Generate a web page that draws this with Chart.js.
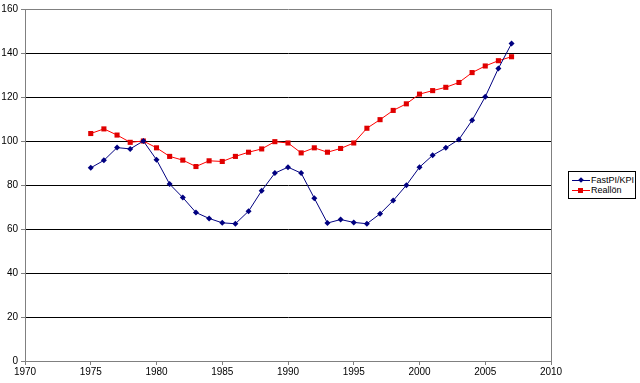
<!DOCTYPE html>
<html>
<head>
<meta charset="utf-8">
<script src="https://cdn.jsdelivr.net/npm/chart.js@4.4.1/dist/chart.umd.min.js"></script>
<style>
html,body{margin:0;padding:0;background:#fff;}
#wrap{position:relative;width:640px;height:383px;}
#legend{position:absolute;left:568px;top:171px;width:68px;height:28px;border:1px solid #000;box-sizing:border-box;background:#fff;font-family:"Liberation Sans",Arial,sans-serif;font-size:9px;color:#000;}
.item{position:absolute;left:0px;height:10px;width:66px;}
.ln{position:absolute;left:3px;top:5px;width:18px;height:1px;}
.mk{position:absolute;}
.tx{position:absolute;left:22px;top:0px;line-height:10px;white-space:nowrap;}
</style>
</head>
<body>
<div id="wrap">
<canvas id="c" width="640" height="383"></canvas>
<div id="legend">
  <div class="item" style="top:3px"><div class="ln" style="background:#000080"></div><div class="mk" style="left:10px;top:3px;width:4px;height:4px;background:#000080;transform:rotate(45deg)"></div><div class="tx">FastPI/KPI</div></div>
  <div class="item" style="top:13px"><div class="ln" style="background:#ff0000"></div><div class="mk" style="left:9px;top:3px;width:5px;height:5px;background:#e00000"></div><div class="tx">Reallön</div></div>
</div>
</div>
<script>
const years = [1975,1976,1977,1978,1979,1980,1981,1982,1983,1984,1985,1986,1987,1988,1989,1990,1991,1992,1993,1994,1995,1996,1997,1998,1999,2000,2001,2002,2003,2004,2005,2006,2007];
const fastpiKpi = [87.8,91.2,97.0,96.4,100.0,91.5,80.4,74.3,67.5,64.8,62.8,62.4,68.1,77.4,85.4,88.1,85.4,74.0,62.7,64.3,63.0,62.4,66.9,72.9,79.9,88.1,93.5,96.9,100.7,109.4,120.1,133.0,144.3];
const reallon = [103.4,105.5,102.7,99.4,100.0,96.9,93.0,91.3,88.4,91.0,90.7,93.0,94.9,96.4,99.7,99.1,94.6,96.9,94.9,96.6,99.1,105.8,109.7,113.9,116.9,121.3,122.9,124.4,126.6,131.1,134.1,136.5,138.3];
const seriesNames = ["FastPI/KPI","Reallön"];
const xTicks = {min:1970, max:2010, step:5};
const yTicks = {min:0, max:160, step:20};

const pts = (arr) => years.map((y,i)=>({x:y,y:arr[i]}));

new Chart(document.getElementById('c'), {
  type: 'scatter',
  data: {
    datasets: [
      {label: seriesNames[0], data: pts(fastpiKpi), showLine:true, borderColor:'#000080', borderWidth:1, backgroundColor:'#000080', pointStyle:'rectRot', pointRadius:3, pointBorderWidth:0, pointBackgroundColor:'#000080', tension:0},
      {label: seriesNames[1], data: pts(reallon), showLine:true, borderColor:'#ff0000', borderWidth:1, backgroundColor:'#e00000', pointStyle:'rect', pointRadius:3.6, pointBorderWidth:0, pointBackgroundColor:'#e00000', tension:0}
    ]
  },
  options: {
    responsive:false,
    animation:false,
    events:[],
    layout:{padding:{top:7,right:89,left:0,bottom:0}},
    plugins:{legend:{display:false}, tooltip:{enabled:false}},
    scales:{
      x:{
        type:'linear', min:xTicks.min, max:xTicks.max,
        ticks:{stepSize:xTicks.step, color:'#000', font:{family:'"Liberation Sans", Arial, sans-serif', size:10}, padding:1, maxRotation:0, callback:(v)=>String(v)},
        grid:{drawOnChartArea:true, color:(c)=> c.tick && c.tick.value===xTicks.max ? '#808080' : 'rgba(0,0,0,0)', tickColor:'#808080', tickLength:4, lineWidth:1},
        border:{color:'#808080', width:1},
        afterFit:(s)=>{s.height=22;}
      },
      y:{
        min:yTicks.min, max:yTicks.max,
        ticks:{stepSize:yTicks.step, color:'#000', font:{family:'"Liberation Sans", Arial, sans-serif', size:10}, padding:3},
        grid:{color:(c)=> c.tick && c.tick.value===yTicks.max ? '#808080' : '#000', tickColor:'#808080', tickLength:4, lineWidth:1},
        border:{color:'#808080', width:1},
        afterFit:(s)=>{s.width=25;}
      }
    }
  }
});
</script>
</body>
</html>
